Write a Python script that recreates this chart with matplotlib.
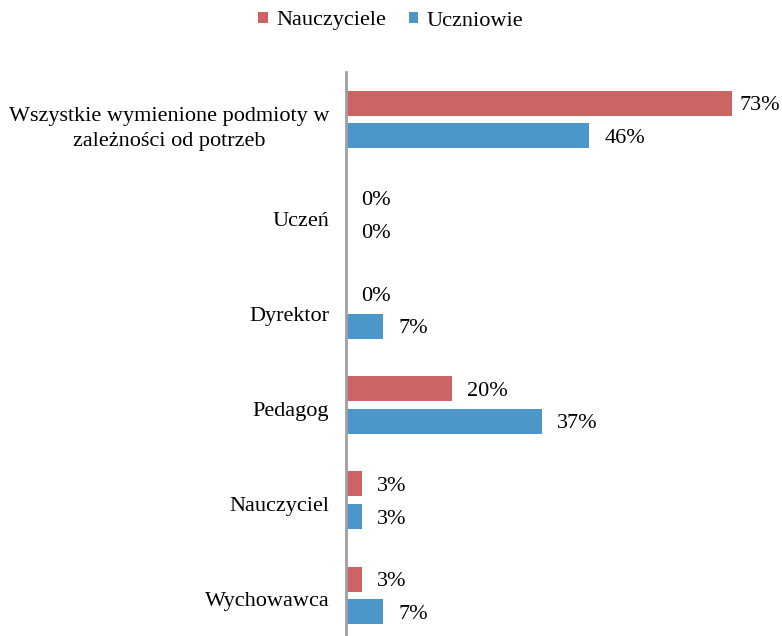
import matplotlib
matplotlib.use("Agg")
import matplotlib.pyplot as plt
import matplotlib.transforms as mtransforms
import numpy as np

categories = ["Wszystkie wymienione podmioty w\nzależności od potrzeb", "Uczeń", "Dyrektor",
              "Pedagog", "Nauczyciel", "Wychowawca"]
nauczyciele = [73, 0, 0, 20, 3, 3]
uczniowie = [46, 0, 7, 37, 3, 7]
series_names = ["Nauczyciele", "Uczniowie"]
colors = ["#CD6464", "#4B97C9"]

plt.rcParams['font.family'] = ['Liberation Serif', 'DejaVu Serif']
FS = 16

W, H = 782, 636
fig = plt.figure(figsize=(W / 100, H / 100), dpi=100)
left = 346 / W
top = 1 - 72 / H
bottom = 1 - 643 / H
ppu = (732 - 346) / 73.0
xmax = (W - 346) / ppu
ax = fig.add_axes([left, bottom, 1 - left, top - bottom])

y = np.arange(len(categories))
h = 25 / 95
off = 16.25 / 95
b1 = ax.barh(y - off, nauczyciele, height=h, color=colors[0], label=series_names[0])
b2 = ax.barh(y + off, uczniowie, height=h, color=colors[1], label=series_names[1])

ax.set_xlim(0, xmax)
ax.set_ylim(len(categories) - 0.5, -0.5)
ax.set_yticks(y)
ax.set_yticklabels(categories, fontsize=FS, multialignment='center', linespacing=1.45,
                   va='center_baseline')
ax.tick_params(axis='y', length=0, pad=12)
shift = mtransforms.ScaledTranslation(0, -4 / 100, fig.dpi_scale_trans)
for lab in ax.get_yticklabels():
    lab.set_transform(lab.get_transform() + shift)
ax.set_xticks([])
for s in ['top', 'right', 'bottom']:
    ax.spines[s].set_visible(False)
ax.spines['left'].set_color('#A0A0A0')
ax.spines['left'].set_linewidth(2)

texts = []
for bars, vals in [(b1, nauczyciele), (b2, uczniowie)]:
    for rect, v in zip(bars, vals):
        yc = rect.get_y() + rect.get_height() / 2
        t = ax.annotate(f"{v}%", xy=(v, yc), xytext=(15, 0), textcoords='offset pixels',
                        va='center_baseline', ha='left', fontsize=FS)
        texts.append(t)

fig.canvas.draw()
r = fig.canvas.get_renderer()
for t in texts:
    bb = t.get_window_extent(r)
    if bb.x1 > W - 2:
        dx = bb.x1 - (W - 2)
        x, yy = t.xyann
        t.xyann = (x - dx, yy)

fig.legend(handles=[b1, b2], labels=series_names, loc='center', bbox_to_anchor=(0.5, 1 - 21 / H),
           ncol=2, frameon=False, fontsize=FS, handlelength=0.42, handleheight=0.42,
           handletextpad=0.4, columnspacing=1.0)

fig.savefig("out.png", dpi=100)
